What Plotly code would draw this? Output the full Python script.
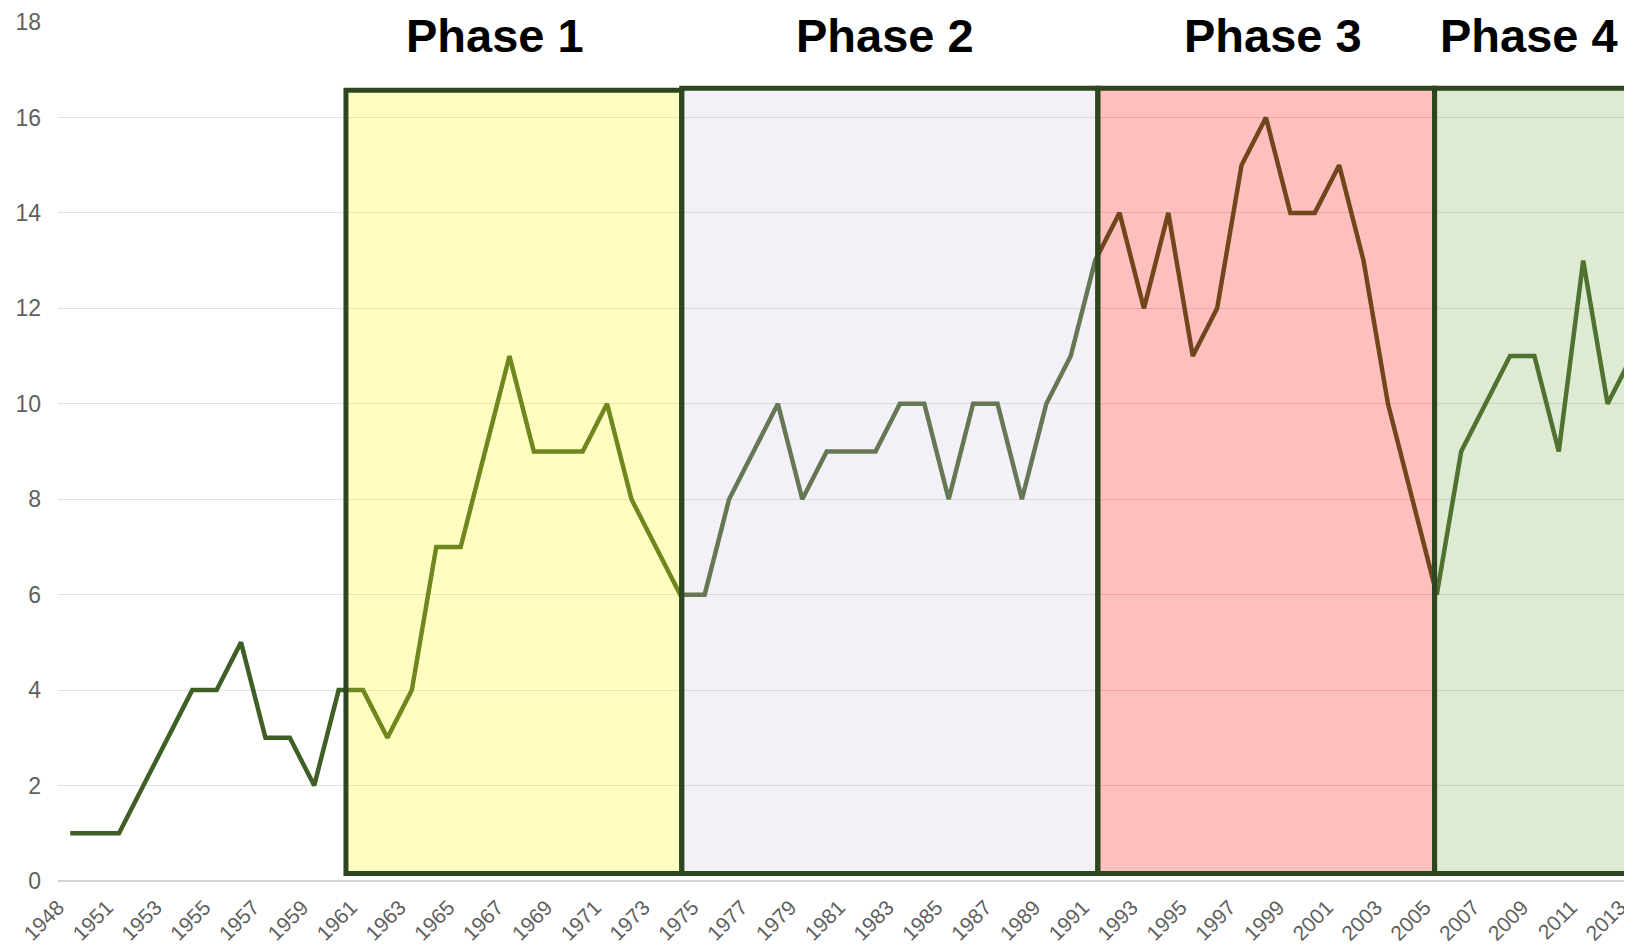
import plotly.graph_objects as go

years = ["1948", "1950", "1951", "1952", "1953", "1954", "1955", "1956", "1957", "1958",
         "1959", "1960", "1961", "1962", "1963", "1964", "1965", "1966", "1967", "1968",
         "1969", "1970", "1971", "1972", "1973", "1974", "1975", "1976", "1977", "1978",
         "1979", "1980", "1981", "1982", "1983", "1984", "1985", "1986", "1987", "1988",
         "1989", "1990", "1991", "1992", "1993", "1994", "1995", "1996", "1997", "1998",
         "1999", "2000", "2001", "2002", "2003", "2004", "2005", "2006", "2007", "2008",
         "2009", "2010", "2011", "2012", "2013"]
values = [1, 1, 1, 2, 3, 4, 4, 5, 3, 3,
          2, 4, 4, 3, 4, 7, 7, 9, 11, 9,
          9, 9, 10, 8, 7, 6, 6, 8, 9, 10,
          8, 9, 9, 9, 10, 10, 8, 10, 10, 8,
          10, 11, 13, 14, 12, 14, 11, 12, 15, 16,
          14, 14, 15, 13, 10, 8, 6, 9, 10, 11,
          11, 9, 13, 10, 11]
tick_labels = years[::2]
phase_names = ["Phase 1", "Phase 2", "Phase 3", "Phase 4"]

# phase boxes (x in category-index units, y in data units) and their colours
phase_x = [(11.30, 25.06), (25.06, 42.11), (42.11, 55.91), (55.91, 63.78)]
phase_top = [16.57, 16.61, 16.61, 16.61]
phase_bottom = 0.155
phase_fill = ["rgba(255,252,5,0.25)", "rgba(212,196,224,0.25)",
              "rgba(255,0,0,0.25)", "rgba(125,170,75,0.25)"]
label_x = [0.2775, 0.5253, 0.7719, 0.9346]

fig = go.Figure()
fig.add_trace(go.Scatter(
    x=years, y=values, mode="lines",
    line=dict(color="#405f27", width=4.5),
    cliponaxis=True, showlegend=False, hoverinfo="x+y",
))

for (x0, x1), top, fill in zip(phase_x, phase_top, phase_fill):
    fig.add_shape(type="rect", xref="x", yref="y", x0=x0, x1=x1, y0=phase_bottom, y1=top,
                  fillcolor=fill, line=dict(color="#2e4620", width=5), layer="above")

for name, lx in zip(phase_names, label_x):
    fig.add_annotation(text="<b>%s</b>" % name, xref="paper", yref="paper",
                       x=lx, y=0.984, xanchor="center", yanchor="middle",
                       showarrow=False, borderpad=0,
                       font=dict(family="Arial, Liberation Sans, sans-serif", size=47, color="#000000"))

# the page body adds an 8px margin, so the figure is 8px smaller than the window
fig.update_layout(
    width=1624, height=941,
    margin=dict(l=50, r=0, t=14, b=68, autoexpand=False),
    paper_bgcolor="white", plot_bgcolor="white",
    font=dict(family="Arial, Liberation Sans, sans-serif", color="#5f5f5f"),
    xaxis=dict(type="category", range=[-0.5, 64], tickmode="array",
               tickvals=tick_labels, ticktext=tick_labels, tickangle=-45,
               showgrid=False, showline=False, zeroline=False, automargin=False,
               tickfont=dict(size=21, color="#5f5f5f"), ticks="",
               ticklabelstandoff=9, ticklabelshift=-12),
    yaxis=dict(range=[0, 18], tickvals=[0, 2, 4, 6, 8, 10, 12, 14, 16, 18],
               showgrid=True, gridcolor="#e1e1e1", gridwidth=1,
               zeroline=True, zerolinecolor="#d6d6d6", zerolinewidth=2, automargin=False,
               showline=False, tickfont=dict(size=23, color="#5f5f5f"),
               ticks="", ticklabelstandoff=16),
)

fig.write_html("out.html")
